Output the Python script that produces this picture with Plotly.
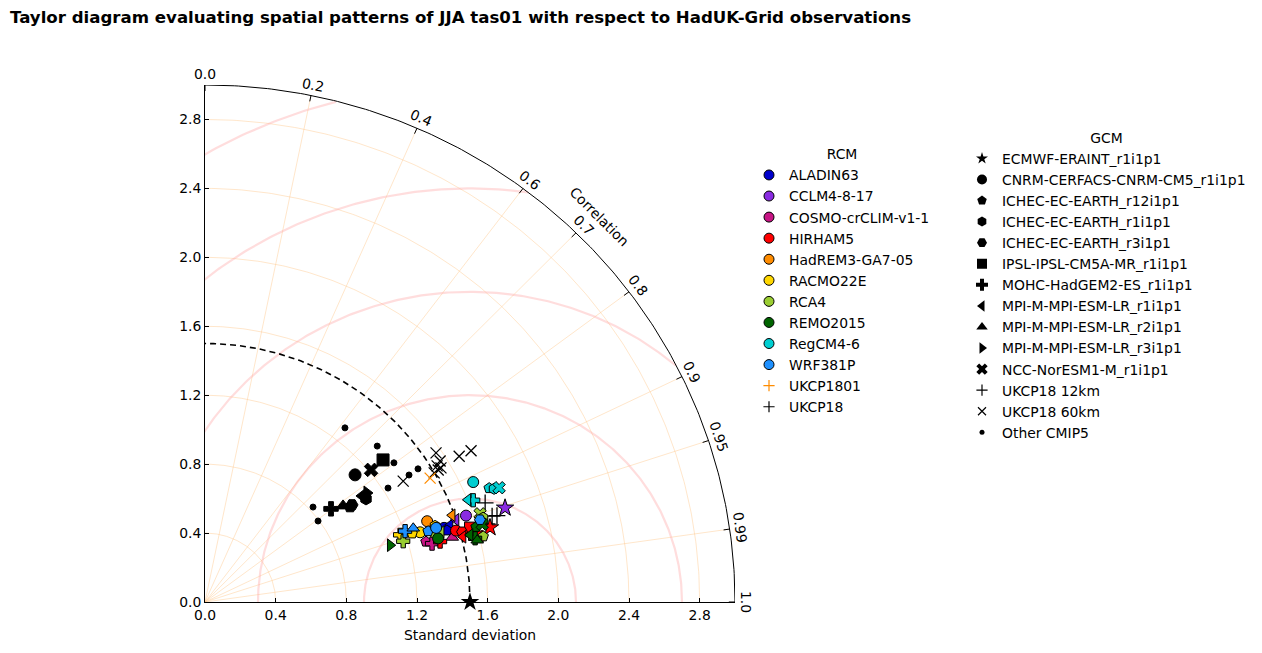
import numpy as np
import plotly.graph_objects as go

# ---------------- data ----------------
rcm_names = ["ALADIN63", "CCLM4-8-17", "COSMO-crCLIM-v1-1", "HIRHAM5", "HadREM3-GA7-05",
             "RACMO22E", "RCA4", "REMO2015", "RegCM4-6", "WRF381P", "UKCP1801", "UKCP18"]
rcm_colors = ["#0000CD", "#8A2BE2", "#C71585", "#FF0000", "#FF8C00",
              "#FFD700", "#9ACD32", "#006400", "#00CED1", "#1E90FF", "#FF8C00", "#000000"]

gcm_names = ["ECMWF-ERAINT_r1i1p1", "CNRM-CERFACS-CNRM-CM5_r1i1p1", "ICHEC-EC-EARTH_r12i1p1",
             "ICHEC-EC-EARTH_r1i1p1", "ICHEC-EC-EARTH_r3i1p1", "IPSL-IPSL-CM5A-MR_r1i1p1",
             "MOHC-HadGEM2-ES_r1i1p1", "MPI-M-MPI-ESM-LR_r1i1p1", "MPI-M-MPI-ESM-LR_r2i1p1",
             "MPI-M-MPI-ESM-LR_r3i1p1", "NCC-NorESM1-M_r1i1p1", "UKCP18 12km", "UKCP18 60km",
             "Other CMIP5"]
gcm_symbols = ["star", "circle", "pentagon", "hexagon", "hexagon2", "square", "cross",
               "triangle-left", "triangle-up", "triangle-right", "x", "cross-thin", "x-thin",
               "circle"]

# each model run: RCM (or "GCM" for the driving model itself), GCM, std dev, correlation
pt_rcm = [
    "REMO2015", "RACMO22E", "RCA4", "WRF381P", "WRF381P", "HadREM3-GA7-05", "RACMO22E",
    "WRF381P", "RACMO22E", "RCA4", "COSMO-crCLIM-v1-1", "COSMO-crCLIM-v1-1", "HIRHAM5",
    "ALADIN63", "ALADIN63", "ALADIN63", "HIRHAM5", "CCLM4-8-17", "HadREM3-GA7-05",
    "CCLM4-8-17", "HIRHAM5", "REMO2015", "REMO2015", "HIRHAM5", "RCA4", "WRF381P",
    "HIRHAM5", "CCLM4-8-17", "RegCM4-6", "RegCM4-6", "RegCM4-6", "RegCM4-6", "RegCM4-6",
    "RegCM4-6", "HIRHAM5", "REMO2015", "REMO2015", "RCA4", "REMO2015", "RACMO22E",
    "COSMO-crCLIM-v1-1", "HIRHAM5", "RCA4", "RCA4", "REMO2015", "HIRHAM5",
    "COSMO-crCLIM-v1-1", "WRF381P", "UKCP1801",
    "GCM", "GCM", "GCM", "GCM", "GCM", "GCM", "GCM", "GCM", "GCM", "GCM",
    "GCM", "GCM", "GCM", "GCM", "GCM", "GCM", "GCM", "GCM",
    "UKCP18", "UKCP18", "UKCP18", "UKCP18", "UKCP18", "UKCP18", "UKCP18", "UKCP18", "UKCP18",
    "UKCP18", "UKCP18", "UKCP18", "UKCP18",
]
pt_gcm = [
    "MPI-M-MPI-ESM-LR_r3i1p1", "MOHC-HadGEM2-ES_r1i1p1", "MOHC-HadGEM2-ES_r1i1p1",
    "MOHC-HadGEM2-ES_r1i1p1", "MPI-M-MPI-ESM-LR_r2i1p1", "CNRM-CERFACS-CNRM-CM5_r1i1p1",
    "CNRM-CERFACS-CNRM-CM5_r1i1p1", "ICHEC-EC-EARTH_r12i1p1", "ICHEC-EC-EARTH_r1i1p1",
    "CNRM-CERFACS-CNRM-CM5_r1i1p1", "ICHEC-EC-EARTH_r12i1p1", "MPI-M-MPI-ESM-LR_r1i1p1",
    "MOHC-HadGEM2-ES_r1i1p1", "CNRM-CERFACS-CNRM-CM5_r1i1p1", "MPI-M-MPI-ESM-LR_r1i1p1",
    "ICHEC-EC-EARTH_r12i1p1", "CNRM-CERFACS-CNRM-CM5_r1i1p1", "MPI-M-MPI-ESM-LR_r1i1p1",
    "MPI-M-MPI-ESM-LR_r1i1p1", "CNRM-CERFACS-CNRM-CM5_r1i1p1", "IPSL-IPSL-CM5A-MR_r1i1p1",
    "ICHEC-EC-EARTH_r12i1p1", "MOHC-HadGEM2-ES_r1i1p1", "NCC-NorESM1-M_r1i1p1",
    "NCC-NorESM1-M_r1i1p1", "ICHEC-EC-EARTH_r3i1p1", "ECMWF-ERAINT_r1i1p1",
    "ECMWF-ERAINT_r1i1p1", "MOHC-HadGEM2-ES_r1i1p1", "MPI-M-MPI-ESM-LR_r1i1p1",
    "CNRM-CERFACS-CNRM-CM5_r1i1p1", "ICHEC-EC-EARTH_r12i1p1", "ICHEC-EC-EARTH_r1i1p1",
    "NCC-NorESM1-M_r1i1p1", "ICHEC-EC-EARTH_r3i1p1", "MPI-M-MPI-ESM-LR_r1i1p1",
    "MPI-M-MPI-ESM-LR_r2i1p1", "ICHEC-EC-EARTH_r12i1p1", "CNRM-CERFACS-CNRM-CM5_r1i1p1",
    "ICHEC-EC-EARTH_r12i1p1", "MOHC-HadGEM2-ES_r1i1p1", "MPI-M-MPI-ESM-LR_r1i1p1",
    "MPI-M-MPI-ESM-LR_r1i1p1", "ICHEC-EC-EARTH_r1i1p1", "NCC-NorESM1-M_r1i1p1",
    "ICHEC-EC-EARTH_r12i1p1", "MPI-M-MPI-ESM-LR_r2i1p1", "CNRM-CERFACS-CNRM-CM5_r1i1p1",
    "UKCP18 60km",
    "CNRM-CERFACS-CNRM-CM5_r1i1p1", "IPSL-IPSL-CM5A-MR_r1i1p1", "NCC-NorESM1-M_r1i1p1",
    "MOHC-HadGEM2-ES_r1i1p1", "MPI-M-MPI-ESM-LR_r1i1p1", "MPI-M-MPI-ESM-LR_r2i1p1",
    "MPI-M-MPI-ESM-LR_r3i1p1", "ICHEC-EC-EARTH_r12i1p1", "ICHEC-EC-EARTH_r1i1p1",
    "ICHEC-EC-EARTH_r3i1p1",
    "Other CMIP5", "Other CMIP5", "Other CMIP5", "Other CMIP5", "Other CMIP5",
    "Other CMIP5", "Other CMIP5", "Other CMIP5",
    "UKCP18 60km", "UKCP18 60km", "UKCP18 60km", "UKCP18 60km", "UKCP18 60km",
    "UKCP18 60km", "UKCP18 60km", "UKCP18 60km", "UKCP18 60km",
    "UKCP18 12km", "UKCP18 12km", "UKCP18 12km", "UKCP18 12km",
]
pt_std = [
    1.099, 1.171, 1.176, 1.205, 1.254, 1.342, 1.283, 1.328, 1.375, 1.362, 1.299, 1.361, 1.376,
    1.420, 1.457, 1.431, 1.480, 1.499, 1.487, 1.560, 1.561, 1.595, 1.573, 1.598, 1.639, 1.628,
    1.670, 1.784, 1.629, 1.602, 1.670, 1.739, 1.763, 1.792, 1.511, 1.550, 1.582, 1.620, 1.370,
    1.238, 1.329, 1.509, 1.397, 1.648, 1.633, 1.586, 1.449, 1.377, 1.463,
    1.125, 1.302, 1.213, 0.895, 1.081, 0.960, 1.114, 0.989, 1.090, 1.005,
    1.284, 1.330, 1.340, 1.370, 1.432, 1.229, 0.823, 0.794,
    1.323, 1.568, 1.669, 1.743, 1.533, 1.562, 1.526, 1.498, 1.546,
    1.687, 1.700, 1.727, 1.660,
]
pt_corr = [
    0.954, 0.943, 0.954, 0.940, 0.940, 0.937, 0.949, 0.951, 0.947, 0.956, 0.963, 0.966, 0.967,
    0.953, 0.952, 0.957, 0.960, 0.948, 0.941, 0.947, 0.961, 0.962, 0.972, 0.971, 0.950, 0.956,
    0.966, 0.952, 0.932, 0.929, 0.909, 0.925, 0.928, 0.929, 0.963, 0.968, 0.974, 0.972, 0.963,
    0.947, 0.967, 0.968, 0.957, 0.955, 0.961, 0.968, 0.966, 0.950, 0.871,
    0.755, 0.774, 0.775, 0.797, 0.822, 0.814, 0.823, 0.830, 0.836, 0.828,
    0.617, 0.733, 0.798, 0.843, 0.842, 0.843, 0.743, 0.806,
    0.848, 0.834, 0.862, 0.864, 0.857, 0.852, 0.865, 0.866, 0.864,
    0.940, 0.956, 0.957, 0.962,
]

ref_std = 1.5          # HadUK-Grid observations
std_max = 3.0
corr_ticks = [0.0, 0.2, 0.4, 0.6, 0.7, 0.8, 0.9, 0.95, 0.99, 1.0]
corr_grid = [0.2, 0.4, 0.6, 0.7, 0.8, 0.9, 0.95, 0.99]
std_ticks = [0.0, 0.4, 0.8, 1.2, 1.6, 2.0, 2.4, 2.8]
std_grid = [0.4, 0.8, 1.2, 1.6, 2.0, 2.4, 2.8]
rms_levels = [0.6, 1.2, 1.8, 2.4, 3.0]

# ---------------- styles ----------------
FONT = "DejaVu Sans"
FS = 13.9
color_of = dict(zip(rcm_names, rcm_colors))
color_of["GCM"] = "#000000"
symbol_of = dict(zip(gcm_names, gcm_symbols))
size_of = {g: 11 for g in gcm_names}
size_of["ECMWF-ERAINT_r1i1p1"] = 13
size_of["Other CMIP5"] = 6
size_of["UKCP18 12km"] = 12
size_of["UKCP18 60km"] = 11
ORANGE_GRID = "rgba(255,200,140,0.45)"
PINK_GRID = "rgba(255,170,170,0.40)"

W, H = 1254, 645            # page body adds an 8px margin
L, T, PW, PH = 197, 77, 531, 517


def to_xy(s, c):
    s = np.asarray(s, float)
    c = np.asarray(c, float)
    return s * c, s * np.sqrt(np.clip(1 - c ** 2, 0, None))


fig = go.Figure()

# std-dev grid circles
th = np.linspace(0, np.pi / 2, 200)
gx, gy = [], []
for r in std_grid:
    gx += list(r * np.cos(th)) + [None]
    gy += list(r * np.sin(th)) + [None]
fig.add_trace(go.Scatter(x=gx, y=gy, mode="lines", line=dict(color=ORANGE_GRID, width=1),
                         hoverinfo="skip", showlegend=False))
# correlation radial lines
gx, gy = [], []
for c in corr_grid:
    ex, ey = to_xy(std_max, c)
    gx += [0, float(ex), None]
    gy += [0, float(ey), None]
fig.add_trace(go.Scatter(x=gx, y=gy, mode="lines", line=dict(color=ORANGE_GRID, width=1),
                         hoverinfo="skip", showlegend=False))
# centred RMS difference arcs
ph = np.linspace(0, np.pi, 400)
for r in rms_levels:
    ax_ = ref_std + r * np.cos(ph)
    ay_ = r * np.sin(ph)
    inside = ax_ ** 2 + ay_ ** 2 <= std_max ** 2
    ax_ = np.where(inside, ax_, np.nan)
    ay_ = np.where(inside, ay_, np.nan)
    fig.add_trace(go.Scatter(x=ax_, y=ay_, mode="lines", line=dict(color=PINK_GRID, width=2.2),
                             hoverinfo="skip", showlegend=False, connectgaps=False))
# outer boundary arc
fig.add_trace(go.Scatter(x=std_max * np.cos(th), y=std_max * np.sin(th), mode="lines",
                         line=dict(color="black", width=1), hoverinfo="skip", showlegend=False))
# correlation tick marks
gx, gy = [], []
for c in corr_ticks:
    x1, y1 = to_xy(std_max, c)
    x0, y0 = to_xy(std_max - 0.035, c)
    gx += [float(x0), float(x1), None]
    gy += [float(y0), float(y1), None]
fig.add_trace(go.Scatter(x=gx, y=gy, mode="lines", line=dict(color="black", width=1),
                         hoverinfo="skip", showlegend=False))
# reference std arc
fig.add_trace(go.Scatter(x=ref_std * np.cos(th), y=ref_std * np.sin(th), mode="lines",
                         line=dict(color="black", width=1.6, dash="6px,4px"),
                         hoverinfo="skip", showlegend=False))

# model points, grouped by colour
order = ["GCM", "UKCP18"] + [n for n in rcm_names if n != "UKCP18"]
for grp in order:
    idx = [i for i, r in enumerate(pt_rcm) if r == grp]
    if not idx:
        continue
    xs, ys = to_xy([pt_std[i] for i in idx], [pt_corr[i] for i in idx])
    col = color_of[grp]
    thin = grp in ("UKCP18", "UKCP1801")
    sizes = [size_of[pt_gcm[i]] + (1 if grp == "GCM" and pt_gcm[i] != "Other CMIP5" else 0)
             for i in idx]
    fig.add_trace(go.Scatter(
        x=xs, y=ys, mode="markers", showlegend=False, hoverinfo="skip",
        marker=dict(symbol=[symbol_of[pt_gcm[i]] for i in idx],
                    size=sizes,
                    color=col, opacity=1,
                    line=dict(color=col if thin else "black", width=1.3 if thin else 1)),
    ))

# observation reference
rx, ry = to_xy([ref_std], [1.0])
fig.add_trace(go.Scatter(x=rx, y=ry, mode="markers", showlegend=False, hoverinfo="skip",
                         cliponaxis=False,
                         marker=dict(symbol="star", size=14, color="black", opacity=1,
                                     line=dict(color="black", width=0))))

# legend entries: RCM
for n, col in zip(rcm_names, rcm_colors):
    if n in ("UKCP1801", "UKCP18"):
        mk = dict(symbol="cross-thin", size=8, color=col, line=dict(color=col, width=1.2))
    else:
        mk = dict(symbol="circle", size=10, color=col, line=dict(color="black", width=1))
    fig.add_trace(go.Scatter(x=[None], y=[None], mode="markers", name=n, marker=mk,
                             legend="legend"))
# legend entries: GCM
for n, sym in zip(gcm_names, gcm_symbols):
    if sym in ("cross-thin", "x-thin"):
        mk = dict(symbol=sym, size=8, color="black", line=dict(color="black", width=1.2))
    else:
        sz = {"Other CMIP5": 5, "ECMWF-ERAINT_r1i1p1": 9}.get(n, 10)
        mk = dict(symbol=sym, size=sz, color="black", line=dict(color="black", width=0))
    fig.add_trace(go.Scatter(x=[None], y=[None], mode="markers", name=n, marker=mk,
                             legend="legend2"))

# correlation labels
ann = []
for c in corr_ticks:
    ang = np.arccos(c)
    x, y = to_xy(std_max, c)
    ann.append(dict(x=float(x), y=float(y), xref="x", yref="y",
                    text=f"{c:g}" if c not in (0.0, 1.0) else f"{c:.1f}",
                    showarrow=False, textangle=90 - np.degrees(ang),
                    xshift=11 * np.cos(ang), yshift=11 * np.sin(ang),
                    font=dict(family=FONT, size=FS, color="black")))
cx, cy = to_xy(3.16, np.cos(np.radians(45)))
ann.append(dict(x=float(cx), y=float(cy), xref="x", yref="y", text="Correlation",
                showarrow=False, textangle=45, font=dict(family=FONT, size=FS, color="black")))

fig.update_layout(
    width=W, height=H,
    margin=dict(l=L, r=W - L - PW, t=T, b=H - T - PH),
    paper_bgcolor="white", plot_bgcolor="white",
    font=dict(family=FONT, size=FS, color="black"),
    title=dict(text="<b>Taylor diagram evaluating spatial patterns of JJA tas01 with respect to HadUK-Grid observations</b>",
               x=2 / W, xref="container", xanchor="left",
               y=1 - 9 / H, yref="container", yanchor="middle",
               font=dict(family=FONT, size=16.6, color="black")),
    xaxis=dict(range=[0, std_max], tickvals=std_ticks, ticktext=[f"{v:.1f}" for v in std_ticks],
               showgrid=False, zeroline=False, showline=True, linecolor="black", linewidth=1,
               ticks="inside", ticklen=4, tickcolor="black",
               title=dict(text="Standard deviation", standoff=8, font=dict(size=FS))),
    yaxis=dict(range=[0, std_max], tickvals=std_ticks, ticktext=[f"{v:.1f}" for v in std_ticks],
               showgrid=False, zeroline=False, showline=True, linecolor="black", linewidth=1,
               ticks="inside", ticklen=4, tickcolor="black"),
    annotations=ann,
    legend=dict(title=dict(text="RCM", side="top center", font=dict(size=FS)),
                x=(741 - L) / PW, y=0.891,
                xanchor="left", yanchor="top", font=dict(size=FS), bgcolor="rgba(0,0,0,0)",
                itemclick=False, itemdoubleclick=False),
    legend2=dict(title=dict(text="GCM", side="top center", font=dict(size=FS)),
                 x=(954 - L) / PW, y=0.923,
                 xanchor="left", yanchor="top", font=dict(size=FS), bgcolor="rgba(0,0,0,0)",
                 itemclick=False, itemdoubleclick=False),
)

fig.write_html("out.html")
